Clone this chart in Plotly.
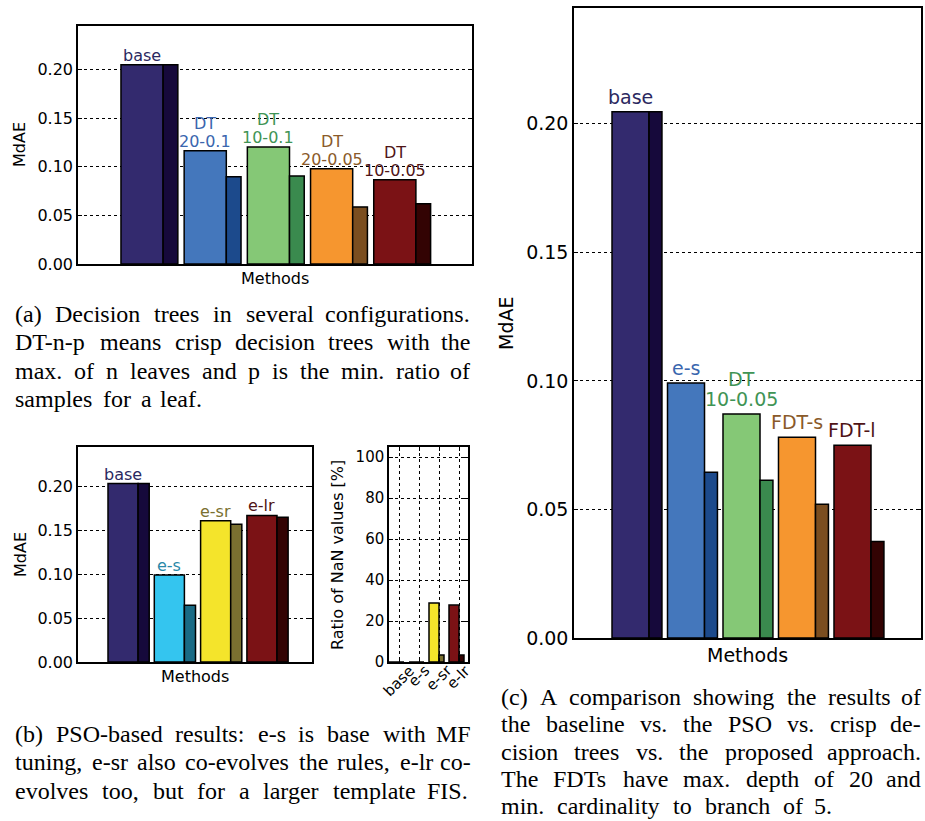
import plotly.graph_objects as go

W, H = 925, 821

# ---------------- data ----------------
# (a) decision trees
a_names = ["base", "DT<br>20-0.1", "DT<br>10-0.1", "DT<br>20-0.05", "DT<br>10-0.05"]
a_main = [0.205, 0.1165, 0.1205, 0.098, 0.0866]
a_second = [0.205, 0.0897, 0.0907, 0.0588, 0.0619]

# (b) PSO-based results
b_names = ["base", "e-s", "e-sr", "e-lr"]
b_main = [0.2034, 0.099, 0.161, 0.167]
b_second = [0.2034, 0.0648, 0.157, 0.165]
b_nan_main = [0, 0, 28.8, 27.8]
b_nan_second = [0, 0, 3.4, 3.4]

# (c) comparison
c_names = ["base", "e-s", "DT<br>10-0.05", "FDT-s", "FDT-l"]
c_main = [0.2047, 0.0992, 0.0871, 0.0781, 0.075]
c_second = [0.2047, 0.0645, 0.0613, 0.052, 0.0375]

cap_a = ["(a) Decision trees in several configurations.",
         "DT-n-p means crisp decision trees with the",
         "max. of n leaves and p is the min. ratio of",
         "samples for a leaf."]
cap_b = ["(b) PSO-based results: e-s is base with MF",
         "tuning, e-sr also co-evolves the rules, e-lr co-",
         "evolves too, but for a larger template FIS."]
cap_c = ["(c) A comparison showing the results of",
         "the baseline vs. the PSO vs. crisp de-",
         "cision trees vs. the proposed approach.",
         "The FDTs have max. depth of 20 and",
         "min. cardinality to branch of 5."]

# ---------------- styles ----------------
C_BASE, C_BASE2, L_BASE = "#332a6e", "#16093b", "#2b2860"
C_BLUE, C_BLUE2, L_BLUE = "#4477bc", "#1c4a8c", "#3a66ae"
C_GRN, C_GRN2, L_GRN = "#85c876", "#3a8a4e", "#3f9455"
C_ORG, C_ORG2, L_ORG = "#f6962f", "#7b4e20", "#8a5a2a"
C_RED, C_RED2, L_RED = "#7b1215", "#330303", "#4f1416"
C_CYN, C_CYN2, L_CYN = "#34c5ef", "#1a6b85", "#2a88a8"
C_YEL, C_YEL2, L_YEL = "#f4e42b", "#7a7030", "#7a7030"

a_cm = [C_BASE, C_BLUE, C_GRN, C_ORG, C_RED]
a_cs = [C_BASE2, C_BLUE2, C_GRN2, C_ORG2, C_RED2]
a_cl = [L_BASE, L_BLUE, L_GRN, L_ORG, L_RED]
b_cm = [C_BASE, C_CYN, C_YEL, C_RED]
b_cs = [C_BASE2, C_CYN2, C_YEL2, C_RED2]
b_cl = [L_BASE, L_CYN, L_YEL, L_RED]
c_cm = [C_BASE, C_BLUE, C_GRN, C_ORG, C_RED]
c_cs = [C_BASE2, C_BLUE2, C_GRN2, C_ORG2, C_RED2]
c_cl = [L_BASE, L_BLUE, L_GRN, L_ORG, L_RED]

SANS = "DejaVu Sans"
SERIF = "Liberation Serif"
EDGE = dict(color="black", width=1.5)
CAP_SIZE = 24

# Times / Liberation Serif advance widths (1/1000 em) used to justify caption lines
TW = {" ": 250, "(": 333, ")": 333, ".": 250, ",": 250, ":": 278, "-": 333,
      "0": 500, "1": 500, "2": 500, "3": 500, "4": 500, "5": 500,
      "6": 500, "7": 500, "8": 500, "9": 500,
      "A": 722, "B": 667, "C": 667, "D": 722, "E": 611, "F": 556, "G": 722,
      "H": 722, "I": 333, "J": 389, "K": 722, "L": 611, "M": 889, "N": 722,
      "O": 722, "P": 556, "Q": 722, "R": 667, "S": 556, "T": 611, "U": 722,
      "V": 722, "W": 944, "X": 722, "Y": 722, "Z": 611,
      "a": 444, "b": 500, "c": 444, "d": 500, "e": 444, "f": 333, "g": 500,
      "h": 500, "i": 278, "j": 278, "k": 500, "l": 278, "m": 778, "n": 500,
      "o": 500, "p": 500, "q": 500, "r": 333, "s": 389, "t": 278, "u": 500,
      "v": 500, "w": 722, "x": 500, "y": 500, "z": 444}


def px(x):
    return x / W


def py(y):
    return 1 - y / H


fig = go.Figure()


def add_pair(names, main, second, cm, cs, xa, ya, wm, ws, om=0.0):
    xs = list(range(len(names)))
    fig.add_trace(go.Bar(x=xs, y=main, width=wm, offset=om,
                         marker=dict(color=cm, line=EDGE),
                         xaxis=xa, yaxis=ya, showlegend=False, hoverinfo="y"))
    fig.add_trace(go.Bar(x=xs, y=second, width=ws, offset=om + wm,
                         marker=dict(color=cs, line=EDGE),
                         xaxis=xa, yaxis=ya, showlegend=False, hoverinfo="y"))


add_pair(a_names, a_main, a_second, a_cm, a_cs, "x", "y", 0.667, 0.233)
add_pair(b_names, b_main, b_second, b_cm, b_cs, "x2", "y2", 0.65, 0.24)
add_pair(b_names, b_nan_main, b_nan_second, b_cm, b_cs, "x3", "y3", 0.5, 0.25, om=-0.5)
add_pair(c_names, c_main, c_second, c_cm, c_cs, "x4", "y4", 0.667, 0.233)

annotations = []


def bar_labels(names, main, colors, xr, yr, wm, size, yshift, spacing):
    for i, (n, v, col) in enumerate(zip(names, main, colors)):
        lines = n.split("<br>")
        for k, line in enumerate(reversed(lines)):
            annotations.append(dict(x=i + wm / 2, y=v, xref=xr, yref=yr, text=line,
                                    showarrow=False, xanchor="center", yanchor="bottom",
                                    yshift=yshift + k * spacing,
                                    font=dict(family=SANS, size=size, color=col)))


bar_labels(a_names, a_main, a_cl, "x", "y", 0.667, 16, -2, 18)
bar_labels(b_names, b_main, b_cl, "x2", "y2", 0.65, 16, -2, 18)
bar_labels(c_names, c_main, c_cl, "x4", "y4", 0.667, 19, 2, 20)

# rotated category labels of the NaN panel (centred under their ticks)
for i, n in enumerate(b_names):
    annotations.append(dict(x=i, y=py(659), xref="x3", yref="paper", text=n,
                            showarrow=False, xanchor="center", yanchor="top",
                            textangle=-45, font=dict(family=SANS, size=15, color="black")))


def text_ann(x, y, text, size, angle=0, family=SANS, xanchor="center", pad=1):
    annotations.append(dict(x=px(x), y=py(y), xref="paper", yref="paper", text=text,
                            showarrow=False, xanchor=xanchor, yanchor="middle",
                            borderpad=pad, textangle=angle,
                            font=dict(family=family, size=size, color="black")))


# axis titles
text_ann(20, 145, "MdAE", 16, -90)
text_ann(275, 278, "Methods", 16)
text_ann(20, 555, "MdAE", 16, -90)
text_ann(195, 676, "Methods", 16)
text_ann(337, 555, "Ratio of NaN values [%]", 16, -90)
text_ann(506, 323, "MdAE", 19, -90)
text_ann(747, 655, "Methods", 19)


def caption(lines, left, rights, baselines, size):
    """Lay out caption words so each line spans [left, right] like justified text."""
    for line, right, base in zip(lines, rights, baselines):
        words = line.split(" ")
        widths = [sum(TW.get(ch, 500) for ch in w) * size / 1000.0 for w in words]
        gap = (right - left - sum(widths)) / max(len(words) - 1, 1)
        x = left
        yc = base - 0.3375 * size
        for wi, (w, ww) in enumerate(zip(words, widths)):
            if wi == len(words) - 1 and len(words) > 1:
                text_ann(right, yc, w, size, family=SERIF, xanchor="right", pad=0)
            else:
                text_ann(x, yc, w, size, family=SERIF, xanchor="left", pad=0)
            x += ww + gap


caption(cap_a, 14, [471, 471, 471, 203], [322, 350.5, 379, 407.5], CAP_SIZE)
caption(cap_b, 14, [472, 472, 469], [742, 770.5, 799], CAP_SIZE)
caption(cap_c, 500, [922, 922, 922, 922, 833], [705, 732.3, 759.6, 786.9, 814], CAP_SIZE)

axis_common = dict(showline=True, linecolor="black", linewidth=1.5, mirror="ticks",
                   zeroline=False, tickcolor="black", ticklen=4, ticks="inside",
                   automargin=False)
grid = dict(showgrid=True, gridcolor="black", gridwidth=1, griddash="dot")


def xaxis(dom, rng, **kw):
    d = dict(axis_common)
    d.update(domain=[px(dom[0]), px(dom[1])], range=rng)
    d.update(kw)
    return d


def yaxis(dom, rng, dtick, size, fmt, anchor, **kw):
    d = dict(axis_common)
    d.update(grid)
    d.update(domain=[py(dom[1]), py(dom[0])], range=rng, dtick=dtick, tick0=0,
             tickformat=fmt, anchor=anchor,
             tickfont=dict(family=SANS, size=size, color="black"))
    d.update(kw)
    return d


fig.update_layout(
    width=W, height=H, margin=dict(l=0, r=0, t=0, b=0, autoexpand=False),
    paper_bgcolor="white", plot_bgcolor="white", barmode="overlay",
    xaxis=xaxis((78, 472), [-0.68, 5.555], showticklabels=False, ticks="", showgrid=False, anchor="y"),
    yaxis=yaxis((26, 264), [0, 0.245], 0.05, 16, ".2f", "x"),
    xaxis2=xaxis((78, 312), [-0.648, 4.406], showticklabels=False, ticks="", showgrid=False, anchor="y2"),
    yaxis2=yaxis((447, 662), [0, 0.245], 0.05, 16, ".2f", "x2"),
    xaxis3=xaxis((389, 468), [-0.5, 3.45], tickmode="array", tickvals=list(range(len(b_names))),
                 showticklabels=False, anchor="y3", **grid),
    yaxis3=yaxis((447, 662), [0, 105], 20, 15, "d", "x3"),
    xaxis4=xaxis((574, 921), [-0.685, 5.568], showticklabels=False, ticks="", showgrid=False, anchor="y4"),
    yaxis4=yaxis((8, 638), [0, 0.245], 0.05, 19, ".2f", "x4"),
    annotations=annotations,
)

fig.write_html("out.html")
